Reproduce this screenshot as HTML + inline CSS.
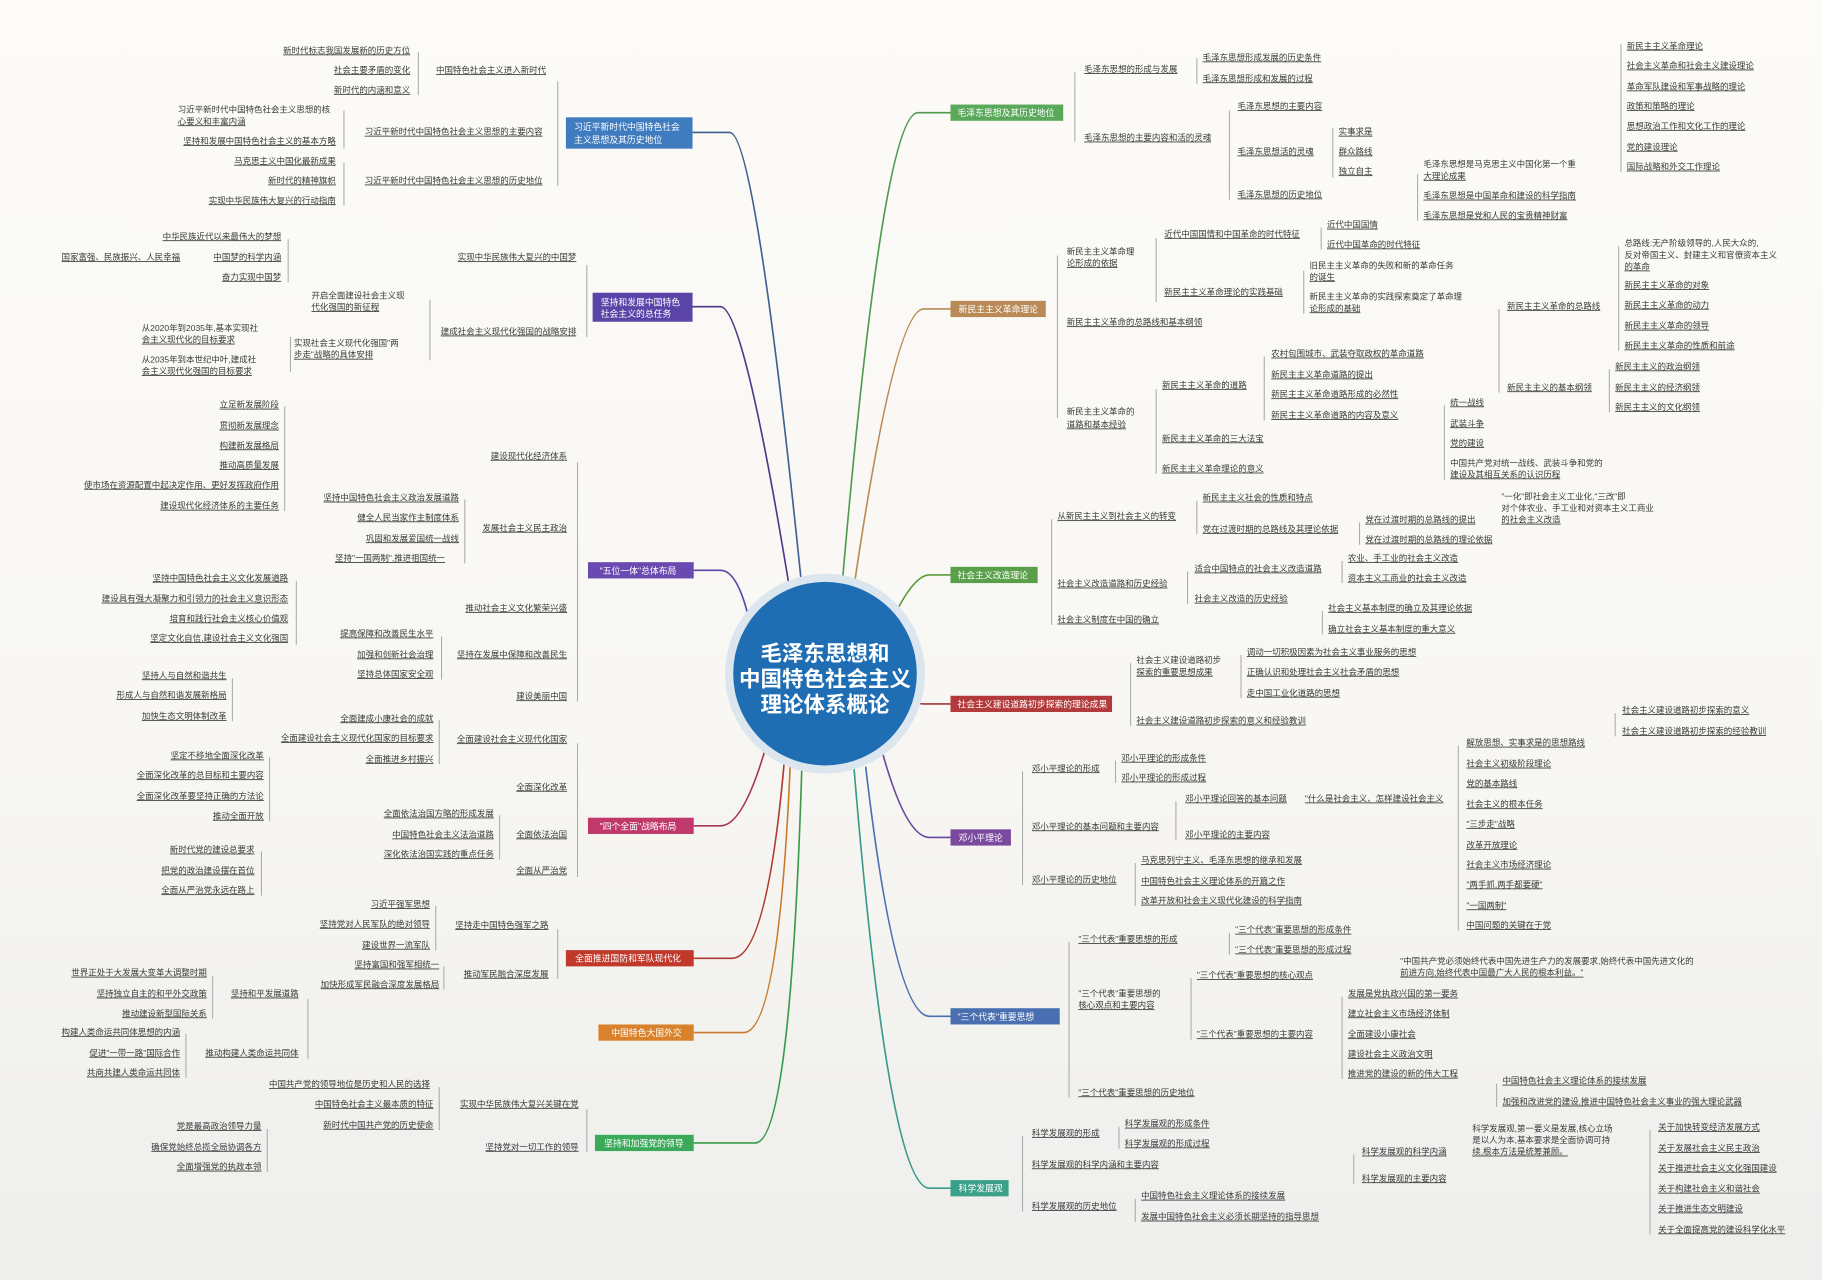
<!DOCTYPE html>
<html><head><meta charset="utf-8"><style>
html,body{margin:0;padding:0;width:1822px;height:1280px;overflow:hidden;background:#fbfaf6}
svg{display:block}
text{font-family:"Liberation Sans","Noto Sans CJK SC",sans-serif;font-size:7.3px;fill:#3a3a3a}
.u{text-decoration:underline;text-decoration-color:#a8a8a8}
.e{text-anchor:end}
.b{fill:#fff;font-size:7.6px}
</style></head><body>
<svg width="1822" height="1280" viewBox="0 0 1568 1102" preserveAspectRatio="none">
<defs><linearGradient id="bg" x1="0" y1="0" x2="0" y2="1"><stop offset="0" stop-color="#fcfbf7"/><stop offset="0.55" stop-color="#f8f7f3"/><stop offset="1" stop-color="#eeeeec"/></linearGradient></defs>
<rect width="1568" height="1102" fill="url(#bg)"/>
<g fill="none" stroke-width="1.4">
<path d="M596,114 H628 Q650,114 690,505" stroke="#3f5f8f"/>
<path d="M596,264 H620 Q640,264 680,510" stroke="#4a3a8a"/>
<path d="M597,491 H620 Q635,491 645,535" stroke="#5a44a8"/>
<path d="M597,711 H620 Q640,711 660,640" stroke="#a8345e"/>
<path d="M597,825 H630 Q660,825 675,655" stroke="#b03a2e"/>
<path d="M597,889 H640 Q670,889 680,660" stroke="#c77a2a"/>
<path d="M597,984 H650 Q680,984 690,662" stroke="#3a9a4a"/>
<path d="M818,97 H790 Q760,97 725,500" stroke="#4f9a4f"/>
<path d="M818,266 H795 Q770,266 735,505" stroke="#b98a55"/>
<path d="M818,495 H800 Q785,495 765,540" stroke="#5a9a3a"/>
<path d="M818,606 H795 Q785,606 772,595" stroke="#a03a3a"/>
<path d="M818,721 H800 Q780,721 760,650" stroke="#6a4a9e"/>
<path d="M818,875 H800 Q770,875 745,660" stroke="#4a6fb0"/>
<path d="M818,1023 H800 Q765,1023 735,662" stroke="#3a9a8a"/>
</g>
<g fill="none" stroke="#aaa" stroke-width="0.9">
<path d="M480,70 V160 M360,45 V82 M296,95 V128 M296,140 V177 M505,228 V290 M248,206 V243 M370,258 V310 M250,290 V320"/>
<path d="M497,398 V604 M245,350 V440 M400,430 V485 M255,500 V555 M380,548 V585 M200,584 V621"/>
<path d="M497,640 V755 M378,620 V658 M232,652 V707 M430,702 V740 M225,733 V771"/>
<path d="M480,800 V843 M375,780 V818 M382,832 V852 M265,860 V912 M183,840 V877 M160,890 V928"/>
<path d="M505,955 V992 M378,936 V973 M230,972 V1009"/>
<path d="M925,62 V122 M1030,50 V72 M1395,38 V148 M1058,95 V172 M1147,110 V153 M1220,150 V190"/>
<path d="M910,220 V360 M995,205 V260 M1137,196 V215 M1122,233 V270 M1290,266 V338 M1393,212 V302 M1385,318 V355 M995,335 V408 M1088,307 V362 M1243,349 V413"/>
<path d="M905,447 V538 M1030,431 V460 M1170,450 V469 M1022,492 V520 M1155,483 V502 M1138,526 V546"/>
<path d="M973,571 V625 M1068,564 V601 M1390,614 V634"/>
<path d="M880,664 V762 M960,655 V674 M1012,690 V723 M1255,642 V801 M977,743 V780"/>
<path d="M920,811 V945 M1058,803 V822 M1025,842 V895 M1155,858 V929 M1288,933 V953"/>
<path d="M880,978 V1043 M963,970 V989 M1165,994 V1019 M1420,973 V1063 M977,1032 V1052"/>
</g>
<circle cx="710" cy="580" r="86" fill="#dbe6ee"/>
<circle cx="710" cy="580" r="79" fill="#1f6db3"/>
<g style="font-weight:bold;text-anchor:middle">
<text x="710" y="569" style="font-size:18.5px;fill:#fff">毛泽东思想和</text>
<text x="710" y="591" style="font-size:18.5px;fill:#fff">中国特色社会主义</text>
<text x="710" y="613" style="font-size:18.5px;fill:#fff">理论体系概论</text>
</g>
<rect x="487" y="101" width="109" height="27" fill="#3f7bbf"/>
<text class="b" x="494" y="112">习近平新时代中国特色社会</text><text class="b" x="494" y="123">主义思想及其历史地位</text>
<rect x="510" y="252" width="86" height="25" fill="#5a44a8"/>
<text class="b" x="517" y="263">坚持和发展中国特色</text><text class="b" x="517" y="273">社会主义的总任务</text>
<rect x="506" y="484" width="91" height="14" fill="#6a4ab0"/><text class="b" x="516" y="494">"五位一体"总体布局</text>
<rect x="506" y="704" width="91" height="14" fill="#c0396a"/><text class="b" x="516" y="714">"四个全面"战略布局</text>
<rect x="487" y="818" width="110" height="14" fill="#c0392b"/><text class="b" x="495" y="828">全面推进国防和军队现代化</text>
<rect x="515" y="882" width="82" height="14" fill="#d9822b"/><text class="b" x="526" y="892">中国特色大国外交</text>
<rect x="512" y="977" width="85" height="14" fill="#3aaa5a"/><text class="b" x="520" y="987">坚持和加强党的领导</text>
<rect x="818" y="90" width="97" height="14" fill="#5aa85a"/><text class="b" x="824" y="100">毛泽东思想及其历史地位</text>
<rect x="818" y="259" width="82" height="14" fill="#b98a55"/><text class="b" x="825" y="269">新民主主义革命理论</text>
<rect x="818" y="488" width="75" height="14" fill="#5aa04a"/><text class="b" x="824" y="498">社会主义改造理论</text>
<rect x="818" y="599" width="139" height="14" fill="#b33a3a"/><text class="b" x="824" y="609">社会主义建设道路初步探索的理论成果</text>
<rect x="818" y="714" width="52" height="14" fill="#7b4a9e"/><text class="b" x="825" y="724">邓小平理论</text>
<rect x="818" y="868" width="94" height="14" fill="#4a6fb0"/><text class="b" x="824" y="878">"三个代表"重要思想</text>
<rect x="818" y="1016" width="50" height="14" fill="#3aa08a"/><text class="b" x="825" y="1026">科学发展观</text>

<g>
<text class="e u" x="470" y="63">中国特色社会主义进入新时代</text>
<text class="e u" x="353" y="46">新时代标志我国发展新的历史方位</text>
<text class="e u" x="353" y="63">社会主要矛盾的变化</text>
<text class="e u" x="353" y="80">新时代的内涵和意义</text>
<text class="e u" x="467" y="116">习近平新时代中国特色社会主义思想的主要内容</text>
<text x="153" y="97">习近平新时代中国特色社会主义思想的核</text><text class="u" x="153" y="107">心要义和丰富内涵</text>
<text class="e u" x="289" y="124">坚持和发展中国特色社会主义的基本方略</text>
<text class="e u" x="467" y="158">习近平新时代中国特色社会主义思想的历史地位</text>
<text class="e u" x="289" y="141">马克思主义中国化最新成果</text>
<text class="e u" x="289" y="158">新时代的精神旗帜</text>
<text class="e u" x="289" y="175">实现中华民族伟大复兴的行动指南</text>

<text class="e u" x="496" y="224">实现中华民族伟大复兴的中国梦</text>
<text class="e u" x="242" y="206">中华民族近代以来最伟大的梦想</text>
<text class="e u" x="242" y="224">中国梦的科学内涵</text>
<text class="e u" x="155" y="224">国家富强、民族振兴、人民幸福</text>
<text class="e u" x="242" y="241">奋力实现中国梦</text>
<text class="e u" x="496" y="288">建成社会主义现代化强国的战略安排</text>
<text x="268" y="257">开启全面建设社会主义现</text><text class="u" x="268" y="267">代化强国的新征程</text>
<text x="253" y="298">实现社会主义现代化强国"两</text><text class="u" x="253" y="308">步走"战略的具体安排</text>
<text x="122" y="285">从2020年到2035年,基本实现社</text><text class="u" x="122" y="295">会主义现代化的目标要求</text>
<text x="122" y="312">从2035年到本世纪中叶,建成社</text><text class="u" x="122" y="322">会主义现代化强国的目标要求</text>

<text class="e u" x="488" y="395">建设现代化经济体系</text>
<text class="e u" x="240" y="351">立足新发展阶段</text>
<text class="e u" x="240" y="369">贯彻新发展理念</text>
<text class="e u" x="240" y="386">构建新发展格局</text>
<text class="e u" x="240" y="403">推动高质量发展</text>
<text class="e u" x="240" y="420">使市场在资源配置中起决定作用、更好发挥政府作用</text>
<text class="e u" x="240" y="438">建设现代化经济体系的主要任务</text>
<text class="e u" x="488" y="457">发展社会主义民主政治</text>
<text class="e u" x="395" y="431">坚持中国特色社会主义政治发展道路</text>
<text class="e u" x="395" y="448">健全人民当家作主制度体系</text>
<text class="e u" x="395" y="466">巩固和发展爱国统一战线</text>
<text class="e u" x="383" y="483">坚持"一国两制",推进祖国统一</text>
<text class="e u" x="488" y="526">推动社会主义文化繁荣兴盛</text>
<text class="e u" x="248" y="500">坚持中国特色社会主义文化发展道路</text>
<text class="e u" x="248" y="518">建设具有强大凝聚力和引领力的社会主义意识形态</text>
<text class="e u" x="248" y="535">培育和践行社会主义核心价值观</text>
<text class="e u" x="248" y="552">坚定文化自信,建设社会主义文化强国</text>
<text class="e u" x="488" y="566">坚持在发展中保障和改善民生</text>
<text class="e u" x="373" y="548">提高保障和改善民生水平</text>
<text class="e u" x="373" y="566">加强和创新社会治理</text>
<text class="e u" x="373" y="583">坚持总体国家安全观</text>
<text class="e u" x="488" y="602">建设美丽中国</text>
<text class="e u" x="195" y="584">坚持人与自然和谐共生</text>
<text class="e u" x="195" y="601">形成人与自然和谐发展新格局</text>
<text class="e u" x="195" y="619">加快生态文明体制改革</text>

<text class="e u" x="488" y="639">全面建设社会主义现代化国家</text>
<text class="e u" x="373" y="621">全面建成小康社会的成就</text>
<text class="e u" x="373" y="638">全面建设社会主义现代化国家的目标要求</text>
<text class="e u" x="373" y="656">全面推进乡村振兴</text>
<text class="e u" x="488" y="680">全面深化改革</text>
<text class="e u" x="227" y="653">坚定不移地全面深化改革</text>
<text class="e u" x="227" y="670">全面深化改革的总目标和主要内容</text>
<text class="e u" x="227" y="688">全面深化改革要坚持正确的方法论</text>
<text class="e u" x="227" y="705">推动全面开放</text>
<text class="e u" x="488" y="721">全面依法治国</text>
<text class="e u" x="425" y="703">全面依法治国方略的形成发展</text>
<text class="e u" x="425" y="721">中国特色社会主义法治道路</text>
<text class="e u" x="425" y="738">深化依法治国实践的重点任务</text>
<text class="e u" x="488" y="752">全面从严治党</text>
<text class="e u" x="219" y="734">新时代党的建设总要求</text>
<text class="e u" x="219" y="752">把党的政治建设摆在首位</text>
<text class="e u" x="219" y="769">全面从严治党永远在路上</text>

<text class="e u" x="472" y="799">坚持走中国特色强军之路</text>
<text class="e u" x="370" y="781">习近平强军思想</text>
<text class="e u" x="370" y="798">坚持党对人民军队的绝对领导</text>
<text class="e u" x="370" y="816">建设世界一流军队</text>
<text class="e u" x="472" y="841">推动军民融合深度发展</text>
<text class="e u" x="378" y="833">坚持富国和强军相统一</text>
<text class="e u" x="378" y="850">加快形成军民融合深度发展格局</text>

<text class="e u" x="257" y="858">坚持和平发展道路</text>
<text class="e u" x="178" y="840">世界正处于大发展大变革大调整时期</text>
<text class="e u" x="178" y="858">坚持独立自主的和平外交政策</text>
<text class="e u" x="178" y="875">推动建设新型国际关系</text>
<text class="e u" x="257" y="909">推动构建人类命运共同体</text>
<text class="e u" x="155" y="891">构建人类命运共同体思想的内涵</text>
<text class="e u" x="155" y="909">促进"一带一路"国际合作</text>
<text class="e u" x="155" y="926">共商共建人类命运共同体</text>

<text class="e u" x="498" y="953">实现中华民族伟大复兴关键在党</text>
<text class="e u" x="370" y="936">中国共产党的领导地位是历史和人民的选择</text>
<text class="e u" x="373" y="953">中国特色社会主义最本质的特征</text>
<text class="e u" x="373" y="971">新时代中国共产党的历史使命</text>
<text class="e u" x="498" y="990">坚持党对一切工作的领导</text>
<text class="e u" x="225" y="972">党是最高政治领导力量</text>
<text class="e u" x="225" y="990">确保党始终总揽全局协调各方</text>
<text class="e u" x="225" y="1007">全面增强党的执政本领</text>
</g>

<g>
<text class="u" x="933" y="62">毛泽东思想的形成与发展</text>
<text class="u" x="1035" y="52">毛泽东思想形成发展的历史条件</text>
<text class="u" x="1035" y="70">毛泽东思想形成和发展的过程</text>
<text class="u" x="933" y="121">毛泽东思想的主要内容和活的灵魂</text>
<text class="u" x="1065" y="94">毛泽东思想的主要内容</text>
<text class="u" x="1065" y="133">毛泽东思想活的灵魂</text>
<text class="u" x="1152" y="116">实事求是</text>
<text class="u" x="1152" y="133">群众路线</text>
<text class="u" x="1152" y="150">独立自主</text>
<text class="u" x="1065" y="170">毛泽东思想的历史地位</text>
<text x="1225" y="144">毛泽东思想是马克思主义中国化第一个重</text><text class="u" x="1225" y="154">大理论成果</text>
<text class="u" x="1225" y="171">毛泽东思想是中国革命和建设的科学指南</text>
<text class="u" x="1225" y="188">毛泽东思想是党和人民的宝贵精神财富</text>
<text class="u" x="1400" y="42">新民主主义革命理论</text>
<text class="u" x="1400" y="59">社会主义革命和社会主义建设理论</text>
<text class="u" x="1400" y="77">革命军队建设和军事战略的理论</text>
<text class="u" x="1400" y="94">政策和策略的理论</text>
<text class="u" x="1400" y="111">思想政治工作和文化工作的理论</text>
<text class="u" x="1400" y="129">党的建设理论</text>
<text class="u" x="1400" y="146">国际战略和外交工作理论</text>

<text x="918" y="219">新民主主义革命理</text><text class="u" x="918" y="229">论形成的依据</text>
<text class="u" x="1002" y="204">近代中国国情和中国革命的时代特征</text>
<text class="u" x="1142" y="196">近代中国国情</text>
<text class="u" x="1142" y="213">近代中国革命的时代特征</text>
<text class="u" x="1002" y="254">新民主主义革命理论的实践基础</text>
<text x="1127" y="231">旧民主主义革命的失败和新的革命任务</text><text class="u" x="1127" y="241">的诞生</text>
<text x="1127" y="258">新民主主义革命的实践探索奠定了革命理</text><text class="u" x="1127" y="268">论形成的基础</text>
<text class="u" x="918" y="280">新民主主义革命的总路线和基本纲领</text>
<text class="u" x="1297" y="266">新民主主义革命的总路线</text>
<text x="1398" y="212">总路线:无产阶级领导的,人民大众的,</text><text x="1398" y="222">反对帝国主义、封建主义和官僚资本主义</text><text class="u" x="1398" y="232">的革命</text>
<text class="u" x="1398" y="248">新民主主义革命的对象</text>
<text class="u" x="1398" y="265">新民主主义革命的动力</text>
<text class="u" x="1398" y="283">新民主主义革命的领导</text>
<text class="u" x="1398" y="300">新民主主义革命的性质和前途</text>
<text class="u" x="1297" y="336">新民主主义的基本纲领</text>
<text class="u" x="1390" y="318">新民主主义的政治纲领</text>
<text class="u" x="1390" y="336">新民主主义的经济纲领</text>
<text class="u" x="1390" y="353">新民主主义的文化纲领</text>
<text x="918" y="357">新民主主义革命的</text><text class="u" x="918" y="368">道路和基本经验</text>
<text class="u" x="1000" y="334">新民主主义革命的道路</text>
<text class="u" x="1094" y="307">农村包围城市、武装夺取政权的革命道路</text>
<text class="u" x="1094" y="325">新民主主义革命道路的提出</text>
<text class="u" x="1094" y="342">新民主主义革命道路形成的必然性</text>
<text class="u" x="1094" y="360">新民主主义革命道路的内容及意义</text>
<text class="u" x="1000" y="380">新民主主义革命的三大法宝</text>
<text class="u" x="1248" y="349">统一战线</text>
<text class="u" x="1248" y="367">武装斗争</text>
<text class="u" x="1248" y="384">党的建设</text>
<text x="1248" y="401">中国共产党对统一战线、武装斗争和党的</text><text class="u" x="1248" y="411">建设及其相互关系的认识历程</text>
<text class="u" x="1000" y="406">新民主主义革命理论的意义</text>

<text class="u" x="910" y="447">从新民主主义到社会主义的转变</text>
<text class="u" x="1035" y="431">新民主主义社会的性质和特点</text>
<text class="u" x="1035" y="458">党在过渡时期的总路线及其理论依据</text>
<text x="1292" y="430">"一化"即社会主义工业化,"三改"即</text><text x="1292" y="440">对个体农业、手工业和对资本主义工商业</text><text class="u" x="1292" y="450">的社会主义改造</text>
<text class="u" x="1175" y="450">党在过渡时期的总路线的提出</text>
<text class="u" x="1175" y="467">党在过渡时期的总路线的理论依据</text>
<text class="u" x="910" y="505">社会主义改造道路和历史经验</text>
<text class="u" x="1028" y="492">适合中国特点的社会主义改造道路</text>
<text class="u" x="1160" y="483">农业、手工业的社会主义改造</text>
<text class="u" x="1160" y="500">资本主义工商业的社会主义改造</text>
<text class="u" x="1028" y="518">社会主义改造的历史经验</text>
<text class="u" x="910" y="536">社会主义制度在中国的确立</text>
<text class="u" x="1143" y="526">社会主义基本制度的确立及其理论依据</text>
<text class="u" x="1143" y="544">确立社会主义基本制度的重大意义</text>

<text x="978" y="571">社会主义建设道路初步</text><text class="u" x="978" y="581">探索的重要思想成果</text>
<text class="u" x="1073" y="564">调动一切积极因素为社会主义事业服务的思想</text>
<text class="u" x="1073" y="581">正确认识和处理社会主义社会矛盾的思想</text>
<text class="u" x="1073" y="599">走中国工业化道路的思想</text>
<text class="u" x="978" y="623">社会主义建设道路初步探索的意义和经验教训</text>
<text class="u" x="1396" y="614">社会主义建设道路初步探索的意义</text>
<text class="u" x="1396" y="632">社会主义建设道路初步探索的经验教训</text>

<text class="u" x="888" y="664">邓小平理论的形成</text>
<text class="u" x="965" y="655">邓小平理论的形成条件</text>
<text class="u" x="965" y="672">邓小平理论的形成过程</text>
<text class="u" x="888" y="714">邓小平理论的基本问题和主要内容</text>
<text class="u" x="1020" y="690">邓小平理论回答的基本问题</text>
<text class="u" x="1123" y="690">"什么是社会主义、怎样建设社会主义</text>
<text class="u" x="1020" y="721">邓小平理论的主要内容</text>
<text class="u" x="1262" y="642">解放思想、实事求是的思想路线</text>
<text class="u" x="1262" y="660">社会主义初级阶段理论</text>
<text class="u" x="1262" y="677">党的基本路线</text>
<text class="u" x="1262" y="695">社会主义的根本任务</text>
<text class="u" x="1262" y="712">"三步走"战略</text>
<text class="u" x="1262" y="730">改革开放理论</text>
<text class="u" x="1262" y="747">社会主义市场经济理论</text>
<text class="u" x="1262" y="764">"两手抓,两手都要硬"</text>
<text class="u" x="1262" y="782">"一国两制"</text>
<text class="u" x="1262" y="799">中国问题的关键在于党</text>
<text class="u" x="888" y="760">邓小平理论的历史地位</text>
<text class="u" x="982" y="743">马克思列宁主义、毛泽东思想的继承和发展</text>
<text class="u" x="982" y="761">中国特色社会主义理论体系的开篇之作</text>
<text class="u" x="982" y="778">改革开放和社会主义现代化建设的科学指南</text>

<text class="u" x="928" y="811">"三个代表"重要思想的形成</text>
<text class="u" x="1063" y="803">"三个代表"重要思想的形成条件</text>
<text class="u" x="1063" y="820">"三个代表"重要思想的形成过程</text>
<text x="928" y="858">"三个代表"重要思想的</text><text class="u" x="928" y="868">核心观点和主要内容</text>
<text class="u" x="1030" y="842">"三个代表"重要思想的核心观点</text>
<text x="1205" y="830">"中国共产党必须始终代表中国先进生产力的发展要求,始终代表中国先进文化的</text><text class="u" x="1205" y="840">前进方向,始终代表中国最广大人民的根本利益。"</text>
<text class="u" x="1030" y="893">"三个代表"重要思想的主要内容</text>
<text class="u" x="1160" y="858">发展是党执政兴国的第一要务</text>
<text class="u" x="1160" y="875">建立社会主义市场经济体制</text>
<text class="u" x="1160" y="893">全面建设小康社会</text>
<text class="u" x="1160" y="910">建设社会主义政治文明</text>
<text class="u" x="1160" y="927">推进党的建设的新的伟大工程</text>
<text class="u" x="928" y="943">"三个代表"重要思想的历史地位</text>
<text class="u" x="1293" y="933">中国特色社会主义理论体系的接续发展</text>
<text class="u" x="1293" y="951">加强和改进党的建设,推进中国特色社会主义事业的强大理论武器</text>

<text class="u" x="888" y="978">科学发展观的形成</text>
<text class="u" x="968" y="970">科学发展观的形成条件</text>
<text class="u" x="968" y="987">科学发展观的形成过程</text>
<text class="u" x="888" y="1005">科学发展观的科学内涵和主要内容</text>
<text class="u" x="1172" y="994">科学发展观的科学内涵</text>
<text x="1267" y="974">科学发展观,第一要义是发展,核心立场</text><text x="1267" y="984">是以人为本,基本要求是全面协调可持</text><text class="u" x="1267" y="994">续,根本方法是统筹兼顾。</text>
<text class="u" x="1172" y="1017">科学发展观的主要内容</text>
<text class="u" x="1427" y="973">关于加快转变经济发展方式</text>
<text class="u" x="1427" y="991">关于发展社会主义民主政治</text>
<text class="u" x="1427" y="1008">关于推进社会主义文化强国建设</text>
<text class="u" x="1427" y="1026">关于构建社会主义和谐社会</text>
<text class="u" x="1427" y="1043">关于推进生态文明建设</text>
<text class="u" x="1427" y="1061">关于全面提高党的建设科学化水平</text>
<text class="u" x="888" y="1041">科学发展观的历史地位</text>
<text class="u" x="982" y="1032">中国特色社会主义理论体系的接续发展</text>
<text class="u" x="982" y="1050">发展中国特色社会主义必须长期坚持的指导思想</text>
</g>
</svg>
</body></html>
